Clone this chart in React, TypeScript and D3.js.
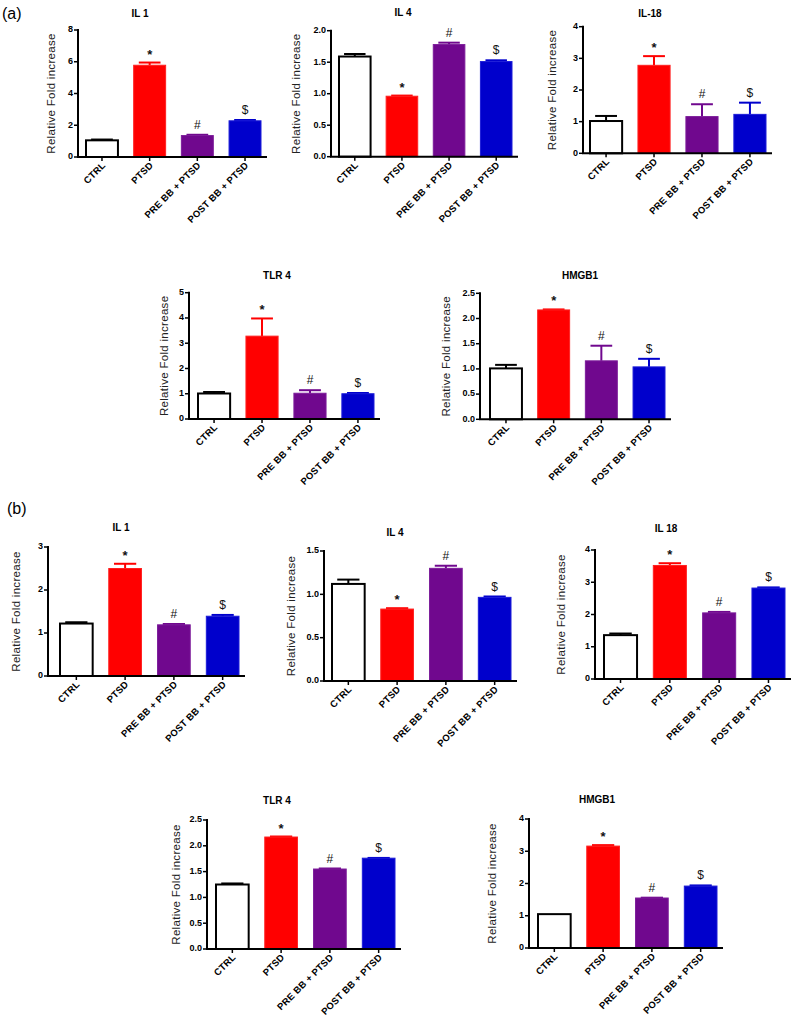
import React from "react";
import * as d3 from "d3";

// ---------- DATA ----------
const categories = ["CTRL", "PTSD", "PRE BB + PTSD", "POST BB + PTSD"];
const significance = ["", "*", "#", "$"];
const barFills = ["#ffffff", "#ff0000", "#70088e", "#0000cc"];
const barStrokes = ["#000000", "#ff2020", "#7c1c9a", "#1c1cd8"];

// (a)
const aIL1Mean = [1.05, 5.78, 1.35, 2.28];
const aIL1Upper = [1.1, 5.95, 1.4, 2.33];
const aIL4Mean = [1.59, 0.96, 1.78, 1.51];
const aIL4Upper = [1.63, 0.97, 1.81, 1.53];
const aIL18Mean = [1.02, 2.78, 1.16, 1.23];
const aIL18Upper = [1.18, 3.07, 1.55, 1.6];
const aTLR4Mean = [1.01, 3.28, 1.02, 1.0];
const aTLR4Upper = [1.07, 3.98, 1.14, 1.03];
const aHMGB1Mean = [1.01, 2.17, 1.16, 1.04];
const aHMGB1Upper = [1.08, 2.18, 1.46, 1.2];
// (b)
const bIL1Mean = [1.22, 2.5, 1.19, 1.39];
const bIL1Upper = [1.25, 2.61, 1.21, 1.42];
const bIL4Mean = [1.12, 0.83, 1.3, 0.965];
const bIL4Upper = [1.17, 0.84, 1.33, 0.975];
const bIL18Mean = [1.36, 3.52, 2.05, 2.82];
const bIL18Upper = [1.41, 3.59, 2.08, 2.84];
const bTLR4Mean = [1.25, 2.17, 1.55, 1.76];
const bTLR4Upper = [1.27, 2.18, 1.56, 1.765];
const bHMGB1Mean = [1.05, 3.16, 1.55, 1.92];
const bHMGB1Upper = [1.05, 3.19, 1.56, 1.94];

const titles = ["IL 1", "IL 4", "IL-18", "TLR 4", "HMGB1", "IL 1", "IL 4", "IL 18", "TLR 4", "HMGB1"];
const yMaxes = [8, 2, 4, 5, 2.5, 3, 1.5, 4, 2.5, 4];
const yTickSteps = [2, 0.5, 1, 1, 0.5, 1, 0.5, 1, 0.5, 1];
const yTickDecimals = [0, 1, 0, 0, 1, 0, 1, 0, 1, 0];
const means = [aIL1Mean, aIL4Mean, aIL18Mean, aTLR4Mean, aHMGB1Mean, bIL1Mean, bIL4Mean, bIL18Mean, bTLR4Mean, bHMGB1Mean];
const uppers = [aIL1Upper, aIL4Upper, aIL18Upper, aTLR4Upper, aHMGB1Upper, bIL1Upper, bIL4Upper, bIL18Upper, bTLR4Upper, bHMGB1Upper];
const yLabel = "Relative Fold increase";

// ---------- LAYOUT ----------
const layouts = [
  { axisX: 78, yTop: 30, y0: 157, x0: 86, x1: 261, tx: 140, ty: 17, lx: 52 },
  { axisX: 331, yTop: 30.7, y0: 156.7, x0: 339, x1: 512, tx: 403, ty: 16, lx: 297 },
  { axisX: 583, yTop: 26.7, y0: 153.3, x0: 590, x1: 766, tx: 650, ty: 17, lx: 553 },
  { axisX: 189, yTop: 292.7, y0: 419, x0: 198, x1: 374, tx: 277, ty: 279, lx: 165 },
  { axisX: 480, yTop: 293.3, y0: 419.3, x0: 490, x1: 665, tx: 580, ty: 279, lx: 447 },
  { axisX: 48, yTop: 547, y0: 676, x0: 60, x1: 239, tx: 121, ty: 531, lx: 17 },
  { axisX: 324, yTop: 551, y0: 681, x0: 332, x1: 511, tx: 395, ty: 536, lx: 292 },
  { axisX: 595, yTop: 550, y0: 679, x0: 604, x1: 785, tx: 666, ty: 532, lx: 562 },
  { axisX: 207, yTop: 820, y0: 949, x0: 216, x1: 395, tx: 277, ty: 804, lx: 177 },
  { axisX: 529, yTop: 819, y0: 948, x0: 538, x1: 717, tx: 597, ty: 803, lx: 493 },
];

const FONT = "Arial, 'Liberation Sans', Helvetica, sans-serif";

function Panel({ i }: { i: number }) {
  const L = layouts[i];
  const yMax = yMaxes[i];
  const step = yTickSteps[i];
  const y = d3.scaleLinear().domain([0, yMax]).range([L.y0, L.yTop]);
  const x = d3.scaleBand<string>().domain(categories).range([L.x0, L.x1]).paddingInner(0.33).paddingOuter(0);
  const ticks = d3.range(0, yMax + step / 2, step);
  const fmt = d3.format(`.${yTickDecimals[i]}f`);
  const bw = x.bandwidth();
  const cap = bw * 0.34;
  const mean = means[i];
  const upper = uppers[i];
  return (
    <g fontFamily={FONT}>
      <text x={L.tx} y={L.ty} textAnchor="middle" fontSize={10} fontWeight="bold" fill="#000">{titles[i]}</text>
      <text transform={`translate(${L.lx},${(L.yTop + L.y0) / 2}) rotate(-90)`} textAnchor="middle" dominantBaseline="middle" fontSize={11.5} letterSpacing={0.3} fill="#222">{yLabel}</text>
      {categories.map((c, k) => {
        const bx = x(c)!;
        const cx = bx + bw / 2;
        const top = y(mean[k]);
        const et = y(upper[k]);
        const m = significance[k];
        return (
          <g key={c}>
            {upper[k] > mean[k] && (
              <g stroke={k === 0 ? "#000" : barFills[k]} strokeWidth={2}>
                <line x1={cx} x2={cx} y1={top} y2={et} />
                <line x1={cx - cap} x2={cx + cap} y1={et} y2={et} />
              </g>
            )}
            <rect x={bx} y={top} width={bw} height={L.y0 - top} fill={barFills[k]} stroke={barStrokes[k]} strokeWidth={k === 0 ? 2 : 1} />
            {m && (
              <text x={cx} y={et - (m === "*" ? 4 : 6)} textAnchor="middle" fill="#111" fontSize={m === "*" ? 13 : 12} fontWeight={m === "*" ? "bold" : "normal"}>{m}</text>
            )}
            <line x1={cx} x2={cx} y1={L.y0} y2={L.y0 + 4} stroke="#000" strokeWidth={1.5} />
            <text transform={`translate(${cx + 4},${L.y0 + 9}) rotate(-45)`} textAnchor="end" fontSize={9.5} fontWeight="bold" letterSpacing={0.2} fill="#000">{c}</text>
          </g>
        );
      })}
      <line x1={L.axisX} x2={L.axisX} y1={L.yTop - 1} y2={L.y0} stroke="#000" strokeWidth={2} />
      <line x1={L.axisX - 1} x2={L.x1 + 6} y1={L.y0} y2={L.y0} stroke="#000" strokeWidth={2} />
      {ticks.map((t) => (
        <g key={t}>
          <line x1={L.axisX - 4} x2={L.axisX} y1={y(t)} y2={y(t)} stroke="#000" strokeWidth={1.5} />
          <text x={L.axisX - 5} y={y(t)} textAnchor="end" dominantBaseline="middle" fontSize={9} fontWeight="bold" fill="#000">{fmt(t)}</text>
        </g>
      ))}
    </g>
  );
}

export default function App() {
  return (
    <svg width={795} height={1020} style={{ position: "absolute", left: 0, top: 0, background: "#fff" }}>
      <rect width={795} height={1020} fill="#fff" />
      <text x={2} y={19} fontFamily={FONT} fontSize={16}>(a)</text>
      <text x={7} y={514} fontFamily={FONT} fontSize={16}>(b)</text>
      {layouts.map((_, i) => <Panel key={i} i={i} />)}
    </svg>
  );
}
